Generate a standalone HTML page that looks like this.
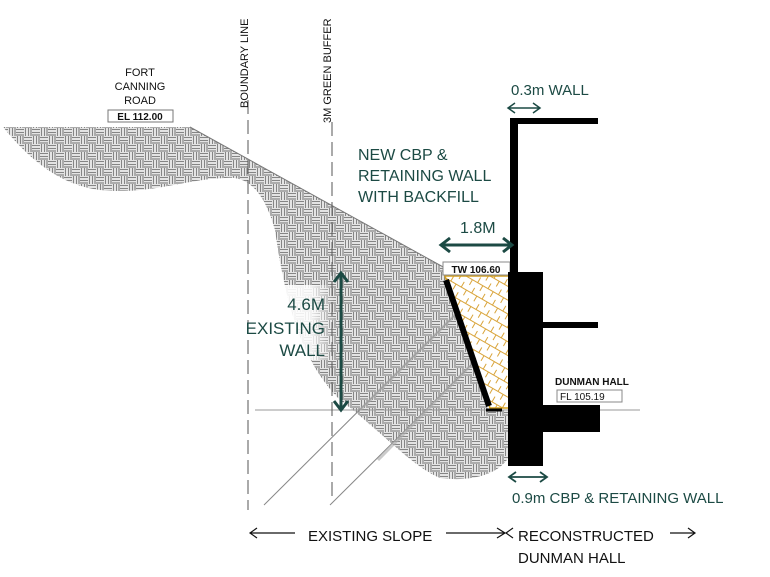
<!DOCTYPE html>
<html><head><meta charset="utf-8"><style>
html,body{margin:0;padding:0;background:#fff;}
svg{display:block;}
text{font-family:"Liberation Sans",sans-serif;}
.g{fill:#1c4a44;font-family:"Liberation Sans",sans-serif;}
</style></head><body>
<svg width="770" height="577" viewBox="0 0 770 577" xmlns="http://www.w3.org/2000/svg">
<defs>
<pattern id="weave" width="16" height="16" patternUnits="userSpaceOnUse">
<rect width="16" height="16" fill="#f4f4f4"/>
<g stroke="#858585" stroke-width="1.3">
<line x1="0" y1="1.5" x2="8" y2="1.5"/><line x1="0" y1="4.5" x2="8" y2="4.5"/><line x1="0" y1="7" x2="8" y2="7"/>
<line x1="9.5" y1="0" x2="9.5" y2="8"/><line x1="12.5" y1="0" x2="12.5" y2="8"/><line x1="15" y1="0" x2="15" y2="8"/>
<line x1="1.5" y1="8" x2="1.5" y2="16"/><line x1="4.5" y1="8" x2="4.5" y2="16"/><line x1="7" y1="8" x2="7" y2="16"/>
<line x1="8" y1="9.5" x2="16" y2="9.5"/><line x1="8" y1="12.5" x2="16" y2="12.5"/><line x1="8" y1="15" x2="16" y2="15"/>
</g>
</pattern>
<pattern id="fill" width="12" height="12" patternUnits="userSpaceOnUse" patternTransform="rotate(30)">
<rect width="12" height="12" fill="#fff"/>
<path d="M0 6 L12 6 M3 0 L3 6 M9 6 L9 12" stroke="#d9a43a" stroke-width="1"/>
</pattern>
<linearGradient id="fade" x1="0" y1="0" x2="1" y2="0">
<stop offset="0" stop-color="#fff" stop-opacity="1"/>
<stop offset="0.75" stop-color="#fff" stop-opacity="0.85"/>
<stop offset="1" stop-color="#fff" stop-opacity="0"/>
</linearGradient>
</defs>

<path d="M3,127 L190,127 L445,268 L488,410 L510,410 L510,455 C500,475 470,482 440,478 C410,465 380,430 340,400 C300,360 285,300 275,230 C265,195 250,175 225,178 C180,180 150,195 100,190 C60,185 30,160 3,127 Z" fill="url(#weave)"/>
<line x1="190" y1="127" x2="445" y2="268" stroke="#777" stroke-width="1"/>
<rect x="240" y="285" width="95" height="75" fill="url(#fade)"/>

<line x1="255" y1="410" x2="640" y2="410" stroke="#999" stroke-width="1"/>

<line x1="248" y1="100" x2="248" y2="510" stroke="#555" stroke-width="1" stroke-dasharray="14,6"/>
<line x1="332" y1="122" x2="332" y2="500" stroke="#555" stroke-width="1" stroke-dasharray="14,6"/>
<text transform="translate(248,108) rotate(-90)" font-size="11" fill="#111">BOUNDARY LINE</text>
<text transform="translate(331,123) rotate(-90)" font-size="11" fill="#111">3M GREEN BUFFER</text>

<text x="140" y="76" font-size="11" text-anchor="middle" fill="#111">FORT</text>
<text x="140" y="90" font-size="11" text-anchor="middle" fill="#111">CANNING</text>
<text x="140" y="104" font-size="11" text-anchor="middle" fill="#111">ROAD</text>
<rect x="108" y="110" width="65" height="12" fill="#fff" stroke="#777"/>
<text x="140" y="120" font-size="10" font-weight="bold" text-anchor="middle" fill="#111">EL 112.00</text>

<line x1="264" y1="505" x2="457" y2="313" stroke="#888" stroke-width="1"/>
<line x1="330" y1="505" x2="473" y2="363" stroke="#888" stroke-width="1"/>
<line x1="360" y1="410" x2="455" y2="315" stroke="#aaa" stroke-width="3" opacity="0.6"/>
<line x1="378" y1="460" x2="470" y2="366" stroke="#aaa" stroke-width="3" opacity="0.6"/>

<polygon points="445,276 510,276 510,408 490,408" fill="url(#fill)" stroke="#d4a020" stroke-width="1.5"/>
<line x1="446" y1="280" x2="489" y2="406" stroke="#000" stroke-width="6"/>
<line x1="486" y1="410" x2="502" y2="410" stroke="#000" stroke-width="3"/>
<rect x="443" y="262" width="67" height="13" fill="#fff" stroke="#888"/>
<text x="476" y="273" font-size="10" font-weight="bold" text-anchor="middle" fill="#111">TW 106.60</text>

<rect x="510" y="118" width="8" height="160" fill="#000"/>
<rect x="510" y="118" width="88" height="6" fill="#000"/>
<rect x="508" y="272" width="35" height="194" fill="#000"/>
<rect x="543" y="322" width="55" height="6" fill="#000"/>
<rect x="543" y="405" width="57" height="27" fill="#000"/>

<text x="555" y="385" font-size="10" font-weight="bold" fill="#111">DUNMAN HALL</text>
<rect x="557" y="390" width="65" height="12" fill="#fff" stroke="#888"/>
<text x="560" y="400" font-size="10" fill="#111">FL 105.19</text>

<text x="511" y="95" font-size="15" class="g">0.3m WALL</text>
<path d="M508,108 L540,108 M515,103 L508,108 L515,113 M533,103 L540,108 L533,113" stroke="#1c4a44" stroke-width="1.5" fill="none"/>

<text x="358" y="160" font-size="16" class="g">NEW CBP &amp;</text>
<text x="358" y="181" font-size="16" class="g">RETAINING WALL</text>
<text x="358" y="202" font-size="16" class="g">WITH BACKFILL</text>

<text x="460" y="233" font-size="16" class="g">1.8M</text>
<path d="M441,245 L512,245 M450,238 L441,245 L450,252 M503,238 L512,245 L503,252" stroke="#1c4a44" stroke-width="3" fill="none"/>

<path d="M341,273 L341,410 M334,282 L341,273 L348,282 M334,401 L341,410 L348,401" stroke="#1c4a44" stroke-width="3" fill="none"/>
<text x="325" y="310" font-size="17" text-anchor="end" class="g">4.6M</text>
<text x="325" y="334" font-size="17" text-anchor="end" class="g">EXISTING</text>
<text x="325" y="356" font-size="17" text-anchor="end" class="g">WALL</text>

<path d="M509,477 L547,477 M516,472 L509,477 L516,482 M540,472 L547,477 L540,482" stroke="#1c4a44" stroke-width="1.8" fill="none"/>
<text x="512" y="503" font-size="15" class="g">0.9m CBP &amp; RETAINING WALL</text>

<path d="M250,533 L295,533 M257,528 L250,533 L257,538" stroke="#111" stroke-width="1.2" fill="none"/>
<text x="308" y="541" font-size="15" fill="#111">EXISTING SLOPE</text>
<path d="M446,533 L505,533 M497,528 L505,533 L497,538 M513,528 L506,533 L513,538" stroke="#111" stroke-width="1.2" fill="none"/>
<text x="518" y="541" font-size="15" fill="#111">RECONSTRUCTED</text>
<text x="518" y="563" font-size="15" fill="#111">DUNMAN HALL</text>
<path d="M670,533 L695,533 M688,528 L695,533 L688,538" stroke="#111" stroke-width="1.2" fill="none"/>
</svg>
</body></html>
